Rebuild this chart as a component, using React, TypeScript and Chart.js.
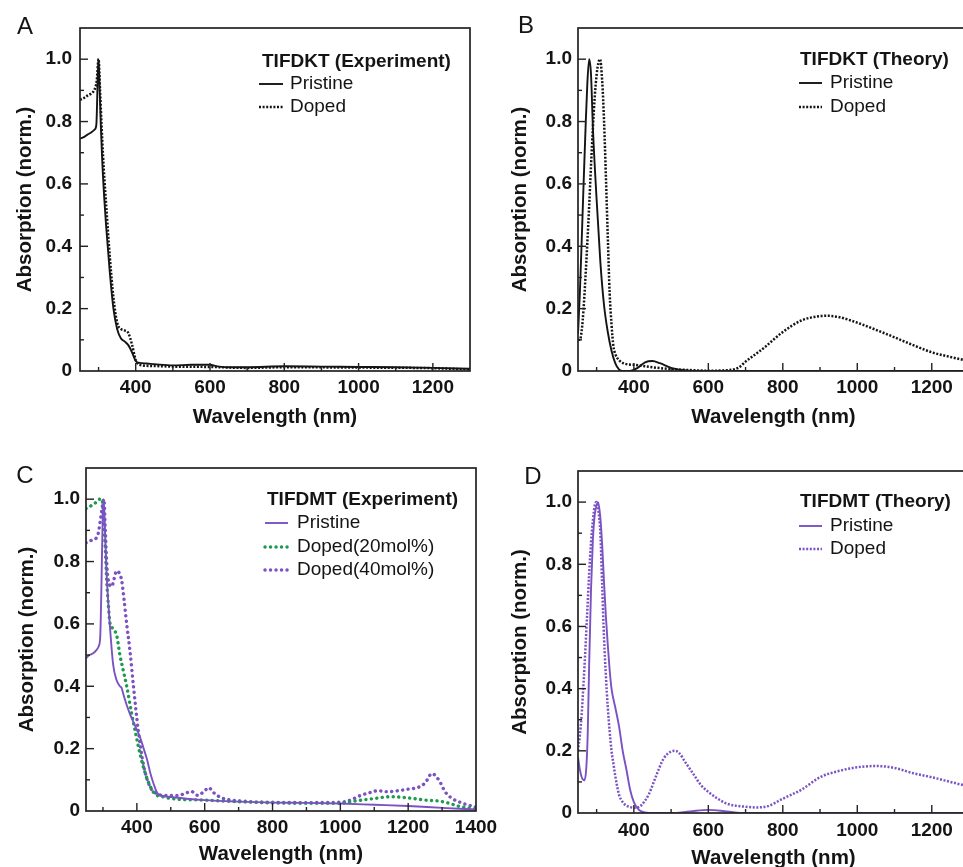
import React, { useEffect, useRef } from "react";
import { Chart, registerables } from "chart.js";

Chart.register(...registerables);

const FONT = '"Liberation Sans", Arial, Helvetica, sans-serif';
const INK = "#141414";
const FRAME = "#222222";
const PURPLE = "#7a52c2";
const GREEN = "#1d9a50";

// ---------- tick labels / titles ----------
const X_LABELS = [400, 600, 800, 1000, 1200, 1400];
const Y_LABEL_VALUES = [0, 0.2, 0.4, 0.6, 0.8, 1.0];
const Y_LABEL_TEXT = ["0", "0.2", "0.4", "0.6", "0.8", "1.0"];
const X_TITLE = "Wavelength (nm)";
const Y_TITLE = "Absorption (norm.)";

// ---------- Panel A: TIFDKT (Experiment) ----------
const aPristineWl = [250, 260, 270, 280, 290, 294, 298, 300, 303, 306, 310, 315, 320, 330, 340, 350, 360, 370, 380, 390, 400, 410, 430, 450, 500, 550, 600, 620, 650, 700, 800, 900, 1000, 1100, 1200, 1300];
const aPristineAbs = [0.745, 0.75, 0.758, 0.765, 0.775, 0.79, 0.95, 1.0, 0.9, 0.79, 0.67, 0.56, 0.47, 0.32, 0.2, 0.135, 0.105, 0.095, 0.083, 0.06, 0.032, 0.026, 0.024, 0.022, 0.018, 0.02, 0.02, 0.015, 0.012, 0.012, 0.015, 0.014, 0.013, 0.012, 0.01, 0.007];
const aDopedWl = [250, 260, 270, 280, 290, 295, 300, 304, 308, 312, 316, 320, 330, 340, 350, 360, 370, 380, 390, 400, 410, 450, 500, 600, 700, 800, 1000, 1200, 1300];
const aDopedAbs = [0.87, 0.875, 0.883, 0.89, 0.905, 0.93, 1.0, 0.9, 0.79, 0.69, 0.61, 0.54, 0.37, 0.235, 0.155, 0.135, 0.13, 0.122, 0.085, 0.035, 0.02, 0.016, 0.014, 0.013, 0.01, 0.012, 0.011, 0.009, 0.005];

// ---------- Panel B: TIFDKT (Theory) ----------
const bPristineWl = [250, 255, 260, 265, 270, 275, 280, 285, 290, 300, 310, 320, 330, 340, 350, 360, 370, 390, 410, 430, 450, 470, 500, 530, 560, 1300];
const bPristineAbs = [0.12, 0.25, 0.42, 0.6, 0.77, 0.92, 1.0, 0.95, 0.78, 0.55, 0.35, 0.21, 0.125, 0.065, 0.025, 0.005, 0, 0, 0.01, 0.028, 0.032, 0.025, 0.01, 0.003, 0, 0];
const bDopedWl = [250, 255, 260, 265, 270, 275, 280, 285, 290, 295, 300, 305, 309, 315, 320, 325, 330, 335, 340, 345, 350, 360, 380, 400, 450, 500, 550, 600, 640, 680, 700, 750, 800, 850, 900, 920, 950, 1000, 1050, 1100, 1150, 1200, 1250, 1300];
const bDopedAbs = [0.1, 0.1, 0.13, 0.2, 0.3, 0.41, 0.53, 0.66, 0.78, 0.88, 0.95, 0.99, 1.0, 0.93, 0.8, 0.62, 0.43, 0.25, 0.15, 0.08, 0.055, 0.035, 0.022, 0.02, 0.012, 0.006, 0.003, 0.001, 0.002, 0.01, 0.03, 0.075, 0.125, 0.162, 0.176, 0.177, 0.173, 0.155, 0.132, 0.108, 0.083, 0.06, 0.045, 0.032];

// ---------- Panel C: TIFDMT (Experiment) ----------
const cPristineWl = [250, 260, 270, 280, 288, 292, 296, 299, 302, 306, 310, 315, 320, 330, 340, 350, 355, 360, 370, 380, 390, 400, 410, 420, 430, 440, 450, 460, 470, 500, 600, 700, 800, 900, 1000, 1100, 1200, 1300, 1400];
const cPristineAbs = [0.49, 0.5, 0.505, 0.515, 0.53, 0.56, 0.75, 0.93, 1.0, 0.9, 0.78, 0.68, 0.6, 0.47, 0.42, 0.4, 0.395, 0.375, 0.34, 0.31, 0.285, 0.26, 0.235, 0.2, 0.165, 0.12, 0.085, 0.058, 0.05, 0.045, 0.035, 0.03, 0.027, 0.026, 0.024, 0.02, 0.016, 0.01, 0.005];
const cDoped20Wl = [250, 260, 270, 280, 290, 297, 302, 307, 311, 316, 321, 330, 341, 350, 360, 370, 385, 400, 410, 425, 437, 449, 460, 480, 500, 600, 700, 800, 900, 1000, 1050, 1100, 1150, 1200, 1250, 1290, 1320, 1350, 1400];
const cDoped20Abs = [0.97, 0.975, 0.983, 0.99, 1.0, 1.0, 0.93, 0.84, 0.74, 0.66, 0.6, 0.585, 0.56, 0.5, 0.45, 0.4, 0.31, 0.23, 0.18, 0.12, 0.085, 0.06, 0.05, 0.045, 0.04, 0.035, 0.03, 0.026, 0.025, 0.025, 0.033, 0.04, 0.046, 0.042, 0.035, 0.032, 0.025, 0.015, 0.006];
const cDoped40Wl = [250, 260, 270, 280, 286, 296, 300, 303, 307, 312, 318, 326, 333, 340, 347, 355, 362, 370, 380, 390, 404, 419, 439, 460, 480, 500, 520, 540, 560, 580, 600, 612, 625, 650, 700, 800, 900, 1000, 1030, 1060, 1090, 1110, 1140, 1170, 1200, 1230, 1250, 1270, 1290, 1310, 1330, 1360, 1400];
const cDoped40Abs = [0.86, 0.865, 0.87, 0.875, 0.89, 0.96, 0.99, 1.0, 0.9, 0.78, 0.73, 0.72, 0.745, 0.77, 0.765, 0.74, 0.68, 0.6, 0.51, 0.4, 0.26, 0.15, 0.077, 0.055, 0.05, 0.05, 0.05, 0.055, 0.063, 0.05, 0.065, 0.075, 0.06, 0.042, 0.033, 0.028, 0.027, 0.028, 0.035, 0.05, 0.06, 0.065, 0.062, 0.065, 0.07, 0.076, 0.09, 0.12, 0.1, 0.06, 0.04, 0.025, 0.012];

// ---------- Panel D: TIFDMT (Theory) ----------
const dPristineWl = [250, 255, 260, 267, 272, 276, 280, 285, 290, 295, 300, 304, 310, 315, 320, 325, 330, 335, 340, 350, 360, 370, 380, 390, 400, 410, 420, 440, 500, 550, 600, 650, 700, 1300];
const dPristineAbs = [0.18, 0.14, 0.115, 0.105, 0.14, 0.25, 0.48, 0.72, 0.88, 0.96, 0.99, 1.0, 0.95, 0.86, 0.74, 0.63, 0.54, 0.46, 0.4, 0.34, 0.28, 0.2, 0.14, 0.075, 0.035, 0.015, 0.005, 0, 0, 0.005, 0.01, 0.005, 0, 0];
const dDopedWl = [250, 255, 260, 265, 270, 275, 280, 285, 290, 295, 300, 305, 310, 315, 320, 325, 330, 340, 345, 350, 360, 370, 380, 390, 405, 420, 440, 460, 480, 500, 510, 520, 540, 560, 580, 600, 620, 650, 700, 730, 760, 800, 850, 900, 950, 1000, 1050, 1100, 1150, 1200, 1250, 1300];
const dDopedAbs = [0.2, 0.25, 0.32, 0.42, 0.53, 0.65, 0.77, 0.87, 0.94, 0.99, 1.0, 0.97, 0.9, 0.73, 0.56, 0.44, 0.34, 0.2, 0.16, 0.12, 0.06, 0.035, 0.024, 0.019, 0.017, 0.025, 0.06, 0.12, 0.175, 0.198, 0.2, 0.195, 0.16, 0.125, 0.09, 0.068, 0.05, 0.03, 0.02, 0.018, 0.022, 0.046, 0.075, 0.115, 0.135, 0.147, 0.151, 0.145, 0.128, 0.115, 0.1, 0.085];

type Series = {
  label: string;
  wl: number[];
  abs: number[];
  color: string;
  width: number;
  dash: number[];
  cap: "butt" | "round";
};

type PanelSpec = {
  id: string;
  letter: string;
  letterPos: [number, number];
  box: { left: number; top: number; width: number; height: number };
  pad: { top: number; right: number };
  yAxisW: number;
  xAxisH: number;
  xMax: number;
  xTickPad: number;
  yTickPad: number;
  yTitlePad: number;
  legendTitle: string;
  legend: { titleX: number; titleY: number; rows: number[]; lineX0: number; lineX1: number; textX: number };
  series: Series[];
};

const solid = (label: string, wl: number[], abs: number[], color: string): Series => ({ label, wl, abs, color, width: 1.9, dash: [], cap: "butt" });
const fineDot = (label: string, wl: number[], abs: number[], color: string): Series => ({ label, wl, abs, color, width: 2.5, dash: [2, 1.6], cap: "butt" });
const roundDot = (label: string, wl: number[], abs: number[], color: string): Series => ({ label, wl, abs, color, width: 3.4, dash: [0.1, 5.4], cap: "round" });

const PANELS: PanelSpec[] = [
  {
    id: "A", letter: "A", letterPos: [25, 27],
    box: { left: 0, top: 0, width: 480, height: 430 },
    pad: { top: 28, right: 10 }, yAxisW: 80, xAxisH: 59, xMax: 1300,
    xTickPad: 5, yTickPad: 8, yTitlePad: 12.7,
    legendTitle: "TIFDKT (Experiment)",
    legend: { titleX: 262, titleY: 62, rows: [84, 107], lineX0: 259, lineX1: 283, textX: 290 },
    series: [solid("Pristine", aPristineWl, aPristineAbs, INK), fineDot("Doped", aDopedWl, aDopedAbs, INK)],
  },
  {
    id: "B", letter: "B", letterPos: [46, 26],
    box: { left: 480, top: 0, width: 500, height: 430 },
    pad: { top: 28, right: 11 }, yAxisW: 98, xAxisH: 59, xMax: 1300,
    xTickPad: 5, yTickPad: 6, yTitlePad: 27.7,
    legendTitle: "TIFDKT (Theory)",
    legend: { titleX: 320, titleY: 60, rows: [83, 107], lineX0: 319, lineX1: 342, textX: 350 },
    series: [solid("Pristine", bPristineWl, bPristineAbs, INK), fineDot("Doped", bDopedWl, bDopedAbs, INK)],
  },
  {
    id: "C", letter: "C", letterPos: [25, 46],
    box: { left: 0, top: 430, width: 500, height: 437 },
    pad: { top: 38, right: 24 }, yAxisW: 86, xAxisH: 56, xMax: 1400,
    xTickPad: 5, yTickPad: 6, yTitlePad: 14.7,
    legendTitle: "TIFDMT (Experiment)",
    legend: { titleX: 267, titleY: 70, rows: [93, 117, 140], lineX0: 265, lineX1: 288, textX: 297 },
    series: [
      solid("Pristine", cPristineWl, cPristineAbs, PURPLE),
      roundDot("Doped(20mol%)", cDoped20Wl, cDoped20Abs, GREEN),
      roundDot("Doped(40mol%)", cDoped40Wl, cDoped40Abs, PURPLE),
    ],
  },
  {
    id: "D", letter: "D", letterPos: [53, 47],
    box: { left: 480, top: 430, width: 500, height: 441 },
    pad: { top: 41, right: 11 }, yAxisW: 98, xAxisH: 58, xMax: 1300,
    xTickPad: 6, yTickPad: 6, yTitlePad: 27.7,
    legendTitle: "TIFDMT (Theory)",
    legend: { titleX: 320, titleY: 72, rows: [96, 119], lineX0: 319, lineX1: 342, textX: 350 },
    series: [solid("Pristine", dPristineWl, dPristineAbs, PURPLE), fineDot("Doped", dDopedWl, dDopedAbs, PURPLE)],
  },
];

function decorPlugin(spec: PanelSpec) {
  return {
    id: "decor" + spec.id,
    afterDraw(chart: any) {
      const ctx: CanvasRenderingContext2D = chart.ctx;
      const { left, right, top, bottom } = chart.chartArea;
      ctx.save();
      ctx.strokeStyle = FRAME;
      ctx.lineWidth = 1.7;
      ctx.setLineDash([]);
      ctx.strokeRect(left, top, right - left, bottom - top);
      ctx.lineWidth = 1.4;
      const xs = chart.scales.x;
      for (const t of xs.ticks) {
        const px = xs.getPixelForValue(t.value);
        if (px <= left + 1 || px >= right - 1) continue;
        const len = X_LABELS.includes(Math.round(t.value)) ? 8 : 4;
        ctx.beginPath();
        ctx.moveTo(px, bottom);
        ctx.lineTo(px, bottom - len);
        ctx.stroke();
      }
      const ys = chart.scales.y;
      for (const t of ys.ticks) {
        const py = ys.getPixelForValue(t.value);
        if (py >= bottom - 1 || py <= top + 1) continue;
        const major = Math.round(t.value * 10) % 2 === 0;
        const len = major ? 8 : 4;
        ctx.beginPath();
        ctx.moveTo(left, py);
        ctx.lineTo(left + len, py);
        ctx.stroke();
      }
      const lg = spec.legend;
      ctx.fillStyle = INK;
      ctx.textAlign = "left";
      ctx.textBaseline = "middle";
      ctx.font = `bold 19px ${FONT}`;
      ctx.fillText(spec.legendTitle, lg.titleX, lg.titleY);
      spec.series.forEach((s, i) => {
        const y = lg.rows[i];
        ctx.save();
        ctx.strokeStyle = s.color;
        ctx.lineWidth = s.width;
        ctx.lineCap = s.cap;
        ctx.setLineDash(s.dash);
        ctx.beginPath();
        ctx.moveTo(lg.lineX0, y);
        ctx.lineTo(lg.lineX1, y);
        ctx.stroke();
        ctx.restore();
        ctx.fillStyle = INK;
        ctx.font = `19px ${FONT}`;
        ctx.fillText(s.label, lg.textX, y);
      });
      ctx.font = `24px ${FONT}`;
      ctx.textAlign = "center";
      ctx.fillText(spec.letter, spec.letterPos[0], spec.letterPos[1]);
      ctx.restore();
    },
  };
}

function buildConfig(spec: PanelSpec): any {
  const datasets = spec.series.map((s) => ({
    label: s.label,
    data: s.wl.map((x, i) => ({ x, y: s.abs[i] })),
    borderColor: s.color,
    borderWidth: s.width,
    borderDash: s.dash,
    borderCapStyle: s.cap,
    pointRadius: 0,
    fill: false,
    cubicInterpolationMode: "monotone",
  }));
  const tickFont = { family: FONT, size: 19, weight: "bold" };
  const titleFont = { family: FONT, size: 20.5, weight: "bold" };
  return {
    type: "line",
    data: { datasets },
    plugins: [decorPlugin(spec)],
    options: {
      animation: false,
      responsive: false,
      maintainAspectRatio: false,
      devicePixelRatio: 1,
      layout: { padding: { left: 0, top: spec.pad.top, right: spec.pad.right, bottom: 0 } },
      plugins: { legend: { display: false }, tooltip: { enabled: false } },
      events: [],
      scales: {
        x: {
          type: "linear",
          min: 250,
          max: spec.xMax,
          border: { display: false },
          grid: { display: false, drawTicks: false },
          ticks: {
            stepSize: 100,
            includeBounds: false,
            autoSkip: false,
            maxRotation: 0,
            padding: spec.xTickPad,
            color: INK,
            font: tickFont,
            callback: (v: number) => (X_LABELS.includes(Math.round(v)) ? String(Math.round(v)) : ""),
          },
          title: { display: true, text: X_TITLE, color: INK, font: titleFont, padding: { top: 0, bottom: 0 } },
          afterFit: (s: any) => {
            s.height = spec.xAxisH;
            s.paddingLeft = 0;
            s.paddingRight = 0;
          },
        },
        y: {
          type: "linear",
          min: 0,
          max: 1.1,
          border: { display: false },
          grid: { display: false, drawTicks: false },
          ticks: {
            stepSize: 0.1,
            autoSkip: false,
            padding: spec.yTickPad,
            color: INK,
            font: tickFont,
            callback: (v: number) => {
              const idx = Y_LABEL_VALUES.findIndex((y) => Math.abs(y - v) < 1e-6);
              return idx >= 0 ? Y_LABEL_TEXT[idx] : "";
            },
          },
          title: { display: true, text: Y_TITLE, color: INK, font: titleFont, padding: { top: spec.yTitlePad, bottom: 0 } },
          afterFit: (s: any) => {
            s.width = spec.yAxisW;
            s.paddingTop = 0;
            s.paddingBottom = 0;
          },
        },
      },
    },
  };
}

function Panel({ spec }: { spec: PanelSpec }) {
  const ref = useRef<HTMLCanvasElement | null>(null);
  useEffect(() => {
    if (!ref.current) return;
    const chart = new Chart(ref.current, buildConfig(spec));
    return () => chart.destroy();
  }, [spec]);
  const { left, top, width, height } = spec.box;
  return (
    <div style={{ position: "absolute", left, top, width, height }}>
      <canvas ref={ref} width={width} height={height} style={{ width, height, display: "block" }} />
    </div>
  );
}

export default function App() {
  return (
    <div
      style={{
        position: "fixed",
        left: 0,
        top: 0,
        width: 963,
        height: 867,
        overflow: "hidden",
        background: "#ffffff",
      }}
    >
      {PANELS.map((p) => (
        <Panel key={p.id} spec={p} />
      ))}
    </div>
  );
}
